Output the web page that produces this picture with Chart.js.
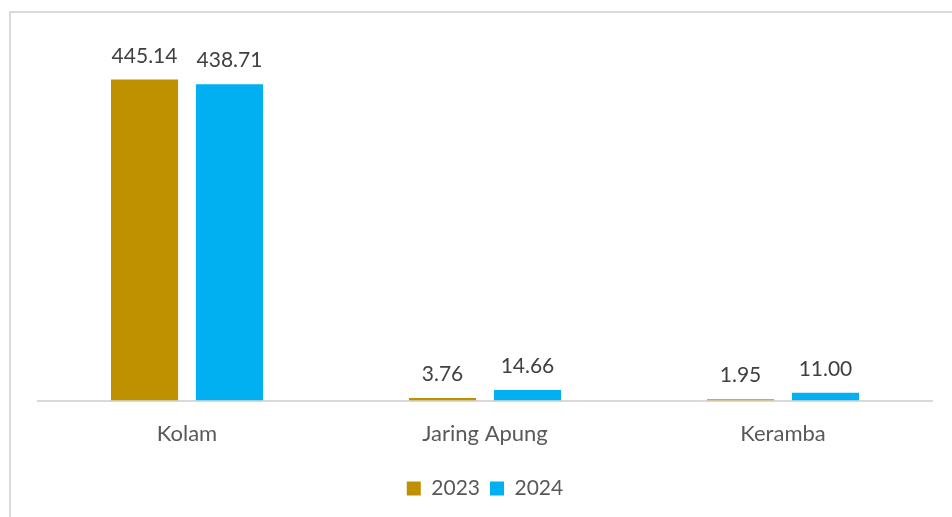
<!DOCTYPE html>
<html>
<head>
<meta charset="utf-8">
<script src="https://cdn.jsdelivr.net/npm/chart.js@4/dist/chart.umd.min.js"></script>
<style>
  html, body { margin: 0; padding: 0; background: #ffffff; }
  #frame { position: absolute; left: 9px; top: 11px; width: 960px; height: 520px;
           border-left: 2px solid #d9d9d9; border-top: 2px solid #d9d9d9; box-sizing: border-box; }
  #wrap { position: absolute; left: 0; top: 0; width: 952px; height: 517px; }
</style>
</head>
<body>
<div id="frame"></div>
<div id="wrap"><canvas id="c" width="952" height="517"></canvas></div>
<script>
const categories = ["Kolam", "Jaring Apung", "Keramba"];
const seriesLabels = ["2023", "2024"];
const values2023 = [445.14, 3.76, 1.95];
const values2024 = [438.71, 14.66, 11.00];
const colors = ["#bf9000", "#00b0f0"];

const FONT = "'Lato', 'Open Sans', 'Noto Sans', sans-serif";

const valueLabels = {
  id: 'valueLabels',
  afterDatasetsDraw(chart) {
    const ctx = chart.ctx;
    ctx.save();
    ctx.font = "21px " + FONT;
    ctx.fillStyle = "#404040";
    ctx.textAlign = "center";
    ctx.textBaseline = "alphabetic";
    chart.data.datasets.forEach((ds, i) => {
      chart.getDatasetMeta(i).data.forEach((bar, j) => {
        ctx.fillText(ds.data[j].toFixed(2), bar.x, bar.y - 17);
      });
    });
    ctx.restore();
  }
};

new Chart(document.getElementById('c'), {
  type: 'bar',
  data: {
    labels: categories,
    datasets: [
      { label: seriesLabels[0], data: values2023, backgroundColor: colors[0] },
      { label: seriesLabels[1], data: values2024, backgroundColor: colors[1] }
    ]
  },
  options: {
    responsive: false,
    animation: false,
    devicePixelRatio: 1,
    layout: { padding: { left: 38, right: 20, top: 40, bottom: 8 } },
    datasets: { bar: { categoryPercentage: 0.57, barPercentage: 0.79 } },
    scales: {
      x: {
        grid: { display: false, drawTicks: false },
        border: { color: "#d9d9d9", width: 2 },
        ticks: { color: "#595959", font: { family: FONT, size: 22 }, padding: 20.5 }
      },
      y: { display: false, min: 0, max: 500 }
    },
    plugins: {
      legend: {
        position: 'bottom',
        labels: { color: "#595959", font: { family: FONT, size: 21 }, boxWidth: 14, boxHeight: 14, padding: 10 }
      },
      tooltip: { enabled: false }
    }
  },
  plugins: [valueLabels]
});
</script>
</body>
</html>
